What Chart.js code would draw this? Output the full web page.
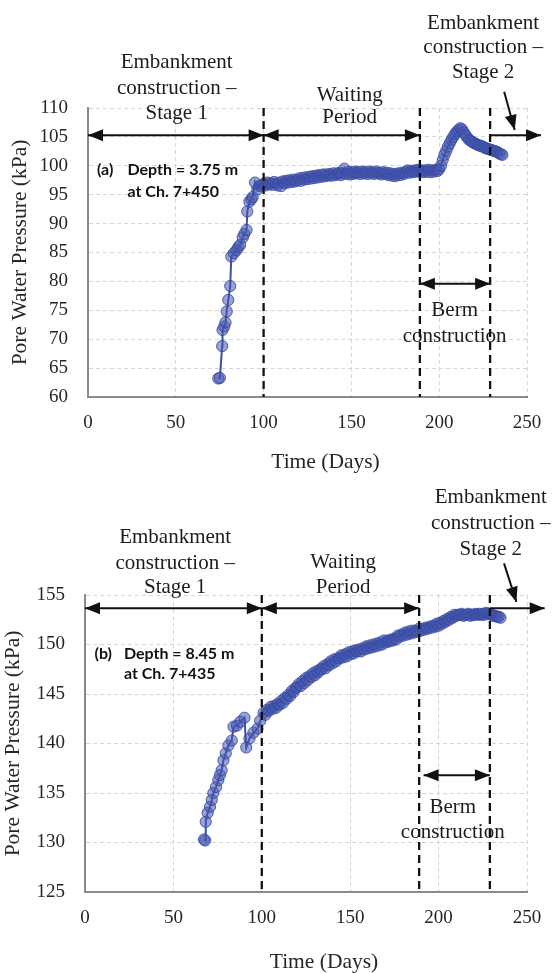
<!DOCTYPE html>
<html>
<head>
<meta charset="utf-8">
<script src="https://cdn.jsdelivr.net/npm/chart.js@4.4.1/dist/chart.umd.min.js"></script>
<style>
  html, body { margin: 0; padding: 0; background: #fff; }
  #wrap { position: relative; width: 558px; height: 973px; }
  canvas { position: absolute; left: 0; }
  #chartA { top: 0; }
  #chartB { top: 480px; }
</style>
</head>
<body>
<div id="wrap">
  <canvas id="chartA" width="558" height="480"></canvas>
  <canvas id="chartB" width="558" height="493"></canvas>
</div>
<script>
// --- data ---
const xTicks = [0, 50, 100, 150, 200, 250];
const yTicksA = [60, 65, 70, 75, 80, 85, 90, 95, 100, 105, 110];
const yTicksB = [125, 130, 135, 140, 145, 150, 155];
const phaseBounds = [100, 189, 229];

// (a) depth 3.75 m, Ch. 7+450 -- sparse early readings, then daily readings from day 100
const daysA = [74.2, 75.1, 76.4, 76.6, 77.6, 78.3, 79.0, 79.9, 81.0, 81.6, 83.1, 84.6, 85.6, 86.6, 88.1, 89.0, 90.3, 90.7, 91.9, 93.0, 93.8, 95.1, 96.4, 97.6, 98.9,
  100, 101, 102, 103, 104, 105, 106, 107, 108, 109, 110, 111, 112, 113, 114, 115, 116, 117, 118, 119,
  120, 121, 122, 123, 124, 125, 126, 127, 128, 129, 130, 131, 132, 133, 134, 135, 136, 137, 138, 139,
  140, 141, 142, 143, 144, 145, 146, 147, 148, 149, 150, 151, 152, 153, 154, 155, 156, 157, 158, 159,
  160, 161, 162, 163, 164, 165, 166, 167, 168, 169, 170, 171, 172, 173, 174, 175, 176, 177, 178, 179,
  180, 181, 182, 183, 184, 185, 186, 187, 188, 189, 190, 191, 192, 193, 194, 195, 196, 197, 198, 199,
  200, 201, 202, 203, 204, 205, 206, 207, 208, 209, 210, 211, 212, 213, 214, 215, 216, 217, 218, 219,
  220, 221, 222, 223, 224, 225, 226, 227, 228, 229, 230, 231, 232, 233, 234, 235, 236];
const pwpA = [63.2, 63.3, 68.8, 71.6, 72.2, 72.9, 74.8, 76.8, 79.2, 84.3, 84.9, 85.4, 85.9, 86.3, 87.6, 88.2, 88.9, 92.1, 93.8, 94.2, 94.6, 97.1, 95.9, 96.5, 96.7,
  96.9, 96.6, 97.1, 96.8, 97.0, 96.7, 97.2, 96.9, 96.6, 97.1, 96.5, 97.3, 97.0, 97.4, 97.1, 97.5, 97.2, 97.6, 97.3, 97.5,
  97.8, 97.4, 97.9, 97.6, 98.0, 97.7, 98.1, 97.8, 98.2, 97.9, 98.3, 98.0, 98.4, 98.1, 98.5, 98.2, 98.5, 98.3, 98.6, 98.3,
  98.7, 98.4, 98.6, 98.8, 98.4, 98.7, 99.5, 98.6, 98.9, 98.5, 98.9, 98.6, 99.0, 98.7, 98.9, 98.6, 99.0, 98.7, 98.9, 98.6,
  99.0, 98.7, 98.9, 98.6, 99.0, 98.7, 98.8, 98.5, 98.9, 98.6, 98.8, 98.4, 98.7, 98.3, 98.6, 98.2, 98.5, 98.7, 98.4, 98.8,
  98.6, 98.9, 99.2, 98.8, 99.1, 98.9, 99.2, 99.0, 99.3, 99.0, 99.2, 98.9, 99.2, 99.0, 99.3, 98.9, 99.2, 99.0, 99.3, 99.1,
  99.4, 100.0, 101.0, 101.9, 102.6, 103.3, 103.9, 104.5, 105.0, 105.5, 105.9, 106.2, 106.5, 106.3, 105.8, 105.3, 104.9, 104.5, 104.3, 104.1,
  103.9, 103.8, 103.6, 103.5, 103.4, 103.3, 103.1, 103.0, 102.9, 102.8, 102.7, 102.6, 102.5, 102.4, 102.2, 102.0, 101.9];

// (b) depth 8.45 m, Ch. 7+435
const daysB = [67.3, 68.0, 68.3, 69.4, 70.7, 71.7, 72.6, 74.1, 75.4, 76.3, 77.3, 78.3, 79.6, 81.1, 83.0, 84.0, 85.9, 87.8, 90.2, 91.2, 93.0, 95.3, 97.6, 99.1,
  101, 102, 103, 104, 105, 106, 107, 108, 109, 110, 111, 112, 113, 114, 115, 116, 117, 118, 119, 120,
  121, 122, 123, 124, 125, 126, 127, 128, 129, 130, 131, 132, 133, 134, 135, 136, 137, 138, 139, 140,
  141, 142, 143, 144, 145, 146, 147, 148, 149, 150, 151, 152, 153, 154, 155, 156, 157, 158, 159, 160,
  161, 162, 163, 164, 165, 166, 167, 168, 169, 170, 171, 172, 173, 174, 175, 176, 177, 178, 179, 180,
  181, 182, 183, 184, 185, 186, 187, 188, 189, 190, 191, 192, 193, 194, 195, 196, 197, 198, 199, 200,
  201, 202, 203, 204, 205, 206, 207, 208, 209, 210, 211, 212, 213, 214, 215, 216, 217, 218, 219, 220,
  221, 222, 223, 224, 225, 226, 227, 228, 229, 230, 231, 232, 233, 234, 235];
const pwpB = [130.3, 130.2, 132.1, 133.0, 133.6, 134.3, 135.0, 135.6, 136.3, 136.8, 137.3, 138.3, 139.0, 139.8, 140.3, 141.7, 141.8, 142.2, 142.6, 139.6, 140.5, 141.1, 141.5, 142.3,
  143.1, 142.9, 143.4, 143.3, 143.7, 143.5, 143.8, 143.6, 144.0, 143.9, 144.3, 144.1, 144.6, 144.5, 144.9, 144.8, 145.3, 145.2, 145.6, 145.7,
  146.0, 145.8, 146.3, 146.1, 146.6, 146.4, 146.8, 146.7, 147.1, 146.9, 147.3, 147.2, 147.5, 147.5, 147.8, 147.6, 148.0, 147.9, 148.3, 148.1,
  148.5, 148.3, 148.6, 148.6, 148.9, 148.7, 149.0, 148.8, 149.2, 149.0, 149.3, 149.1, 149.4, 149.3, 149.5, 149.3, 149.6, 149.5, 149.8, 149.6,
  149.9, 149.7, 150.0, 149.8, 150.1, 149.9, 150.2, 150.0, 150.4, 150.2, 150.4, 150.3, 150.5, 150.4, 150.6, 150.5, 150.9, 150.8, 151.0, 150.9,
  151.2, 151.0, 151.3, 151.1, 151.4, 151.2, 151.4, 151.3, 151.6, 151.4, 151.6, 151.5, 151.7, 151.6, 151.8, 151.7, 151.9, 151.8, 152.1, 151.9,
  152.2, 152.1, 152.4, 152.3, 152.6, 152.5, 152.8, 152.7, 153.0, 152.9, 153.0, 153.0, 153.1, 152.9, 153.0, 153.0, 153.1, 152.9, 153.0, 153.0,
  153.1, 153.0, 153.1, 153.0, 153.1, 153.0, 153.2, 153.1, 153.1, 153.0, 152.9, 152.9, 152.8, 152.8, 152.7];

// --- annotations (data coordinates) ---
const notesA = {
  arrows: [
    {x1: 0, y1: 105.3, x2: 100, y2: 105.3, both: true},
    {x1: 100, y1: 105.3, x2: 189, y2: 105.3, both: true},
    {x1: 229, y1: 105.3, x2: 258, y2: 105.3},
    {x1: 189, y1: 79.6, x2: 229, y2: 79.6, both: true},
    {x1: 237, y1: 112.8, x2: 243, y2: 106.2}
  ],
  labels: [
    {x: 50.5, y: 117.8, t: 'Embankment'}, {x: 50.5, y: 113.3, t: 'construction –'}, {x: 50.5, y: 109.1, t: 'Stage 1'},
    {x: 149, y: 112.2, t: 'Waiting'}, {x: 149, y: 108.3, t: 'Period'},
    {x: 225, y: 124.7, t: 'Embankment'}, {x: 225, y: 120.4, t: 'construction –'}, {x: 225, y: 116.2, t: 'Stage 2'},
    {x: 208.8, y: 74.9, t: 'Berm'}, {x: 208.8, y: 70.4, t: 'construction'},
    {x: 5.1, y: 99.3, t: '(a)', bold: true}, {x: 22.5, y: 99.3, t: 'Depth = 3.75 m', bold: true}, {x: 22.5, y: 95.5, t: 'at Ch. 7+450', bold: true}
  ],
  xTitleY: 462
};
const notesB = {
  arrows: [
    {x1: 0, y1: 153.65, x2: 100, y2: 153.65, both: true},
    {x1: 100, y1: 153.65, x2: 189, y2: 153.65, both: true},
    {x1: 229, y1: 153.65, x2: 260, y2: 153.65},
    {x1: 191.5, y1: 136.8, x2: 229, y2: 136.8, both: true},
    {x1: 237, y1: 158.2, x2: 244, y2: 154.3}
  ],
  labels: [
    {x: 51, y: 160.76, t: 'Embankment'}, {x: 51, y: 158.23, t: 'construction –'}, {x: 51, y: 155.8, t: 'Stage 1'},
    {x: 146, y: 158.3, t: 'Waiting'}, {x: 146, y: 155.8, t: 'Period'},
    {x: 229.5, y: 164.8, t: 'Embankment'}, {x: 229.5, y: 162.2, t: 'construction –'}, {x: 229.5, y: 159.6, t: 'Stage 2'},
    {x: 208, y: 133.5, t: 'Berm'}, {x: 208, y: 131.0, t: 'construction'},
    {x: 5.4, y: 149.1, t: '(b)', bold: true}, {x: 22, y: 149.1, t: 'Depth = 8.45 m', bold: true}, {x: 22, y: 147.0, t: 'at Ch. 7+435', bold: true}
  ],
  xTitleY: 482
};

Chart.defaults.font.family = "'Liberation Serif', serif";
Chart.defaults.color = '#262626';

function arrow(ctx, x1, y1, x2, y2, both) {
  const ang = Math.atan2(y2 - y1, x2 - x1), L = 15, W = 6;
  ctx.lineWidth = 2;
  ctx.beginPath(); ctx.moveTo(x1, y1); ctx.lineTo(x2, y2); ctx.stroke();
  const head = (hx, hy, a) => {
    ctx.beginPath();
    ctx.moveTo(hx, hy);
    ctx.lineTo(hx - L * Math.cos(a) + W * Math.sin(a), hy - L * Math.sin(a) - W * Math.cos(a));
    ctx.lineTo(hx - L * Math.cos(a) - W * Math.sin(a), hy - L * Math.sin(a) + W * Math.cos(a));
    ctx.closePath(); ctx.fill();
  };
  head(x2, y2, ang);
  if (both) head(x1, y1, ang + Math.PI);
}

const overlay = {
  id: 'overlay',
  afterDraw(chart, args, opts) {
    const {ctx, chartArea: a, scales: {x, y}} = chart;
    const px = d => x.getPixelForValue(d);
    const py = v => y.getPixelForValue(v);
    ctx.save();
    ctx.strokeStyle = '#111';
    ctx.fillStyle = '#111';
    ctx.lineWidth = 2.3;
    ctx.setLineDash([8, 5]);
    phaseBounds.forEach(d => {
      ctx.beginPath(); ctx.moveTo(px(d), a.top); ctx.lineTo(px(d), a.bottom); ctx.stroke();
    });
    ctx.setLineDash([]);
    opts.arrows.forEach(r => arrow(ctx, px(r.x1), py(r.y1), px(r.x2), py(r.y2), r.both));
    ctx.textBaseline = 'middle';
    opts.labels.forEach(l => {
      if (l.bold) {
        ctx.font = "bold 16px Lato, sans-serif";
        ctx.textAlign = 'left';
        ctx.fillStyle = '#111';
      } else {
        ctx.font = "21px 'Liberation Serif', serif";
        ctx.textAlign = 'center';
        ctx.fillStyle = '#1c1c1c';
      }
      ctx.fillText(l.t, px(l.x), py(l.y));
    });
    // x axis title sits a little right of the plot centre in the original
    ctx.font = "21.5px 'Liberation Serif', serif";
    ctx.textAlign = 'center';
    ctx.fillStyle = '#262626';
    ctx.fillText('Time (Days)', (a.left + a.right) / 2 + 18, opts.xTitleY);
    ctx.restore();
  }
};

function makeChart(id, days, pwp, yTicks, notes, lay) {
  new Chart(document.getElementById(id), {
    type: 'line',
    data: {
      datasets: [{
        data: days.map((d, i) => ({x: d, y: pwp[i]})),
        borderColor: '#3d4fa6',
        borderWidth: 2,
        pointRadius: 5.6,
        pointBackgroundColor: 'rgba(70,88,175,0.55)',
        pointBorderColor: 'rgba(55,72,160,0.85)',
        pointBorderWidth: 1,
        tension: 0
      }]
    },
    options: {
      responsive: false,
      animation: false,
      devicePixelRatio: 1,
      layout: {padding: {left: 0, right: 31, top: lay.top, bottom: 0}},
      plugins: {legend: {display: false}, tooltip: {enabled: false}, overlay: notes},
      scales: {
        x: {
          type: 'linear', min: 0, max: 250,
          afterBuildTicks: s => { s.ticks = xTicks.map(v => ({value: v})); },
          afterFit: s => { s.height = lay.xh; },
          grid: {color: '#d6d6d6', lineWidth: 1, drawTicks: false},
          border: {color: '#8a8a8a', width: 2, dash: [4, 3]},
          ticks: {padding: 15, font: {size: 19}}
        },
        y: {
          min: yTicks[0], max: yTicks[yTicks.length - 1],
          afterBuildTicks: s => { s.ticks = yTicks.map(v => ({value: v})); },
          afterFit: s => { s.width = lay.yw; },
          grid: {color: '#d6d6d6', lineWidth: 1, drawTicks: false},
          border: {color: '#8a8a8a', width: 2, dash: [4, 3]},
          ticks: {padding: 20, font: {size: 19}},
          title: {display: true, text: 'Pore Water Pressure (kPa)', font: {size: 21.5}, padding: {top: lay.ytp, bottom: 0}}
        }
      }
    },
    plugins: [overlay]
  });
}

makeChart('chartA', daysA, pwpA, yTicksA, notesA, {top: 108, xh: 83, yw: 88, ytp: 7});
makeChart('chartB', daysB, pwpB, yTicksB, notesB, {top: 115, xh: 81, yw: 85, ytp: 0});
</script>
</body>
</html>
